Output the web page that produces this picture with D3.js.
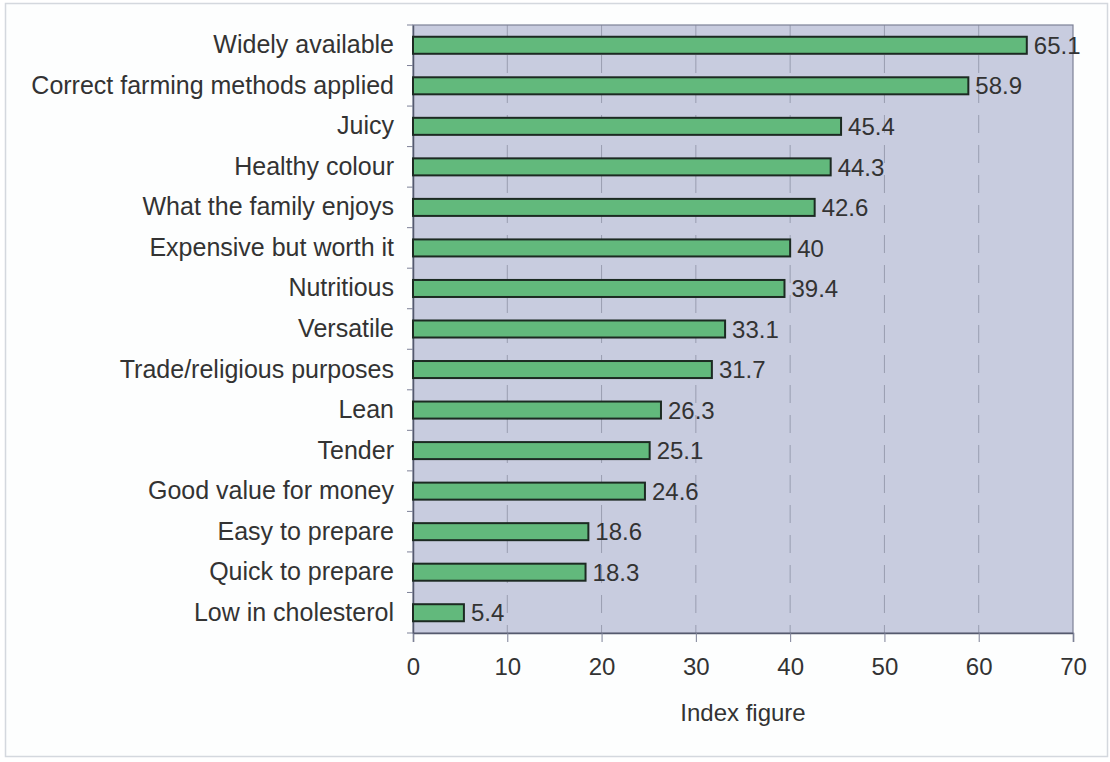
<!DOCTYPE html>
<html><head><meta charset="utf-8">
<script src="https://cdn.jsdelivr.net/npm/d3@7"></script>
<style>body{margin:0;background:#fff}svg{display:block}</style>
</head><body><svg id="c" width="1110" height="762"></svg>
<script>
const categories = ["Widely available","Correct farming methods applied","Juicy","Healthy colour","What the family enjoys","Expensive but worth it","Nutritious","Versatile","Trade/religious purposes","Lean","Tender","Good value for money","Easy to prepare","Quick to prepare","Low in cholesterol"];
const values = [65.1,58.9,45.4,44.3,42.6,40,39.4,33.1,31.7,26.3,25.1,24.6,18.6,18.3,5.4];
const valueLabels = ["65.1","58.9","45.4","44.3","42.6","40","39.4","33.1","31.7","26.3","25.1","24.6","18.6","18.3","5.4"];
const xTicks = [0,10,20,30,40,50,60,70];
const axisTitle = "Index figure";

const svg = d3.select("#c");
const m = {l:413, r:1073, t:25, b:633};
const font = "'Liberation Sans', Arial, sans-serif";
const txt = "#333";

svg.append("rect").attr("x",5.5).attr("y",3.5).attr("width",1102).attr("height",753)
  .attr("fill","#fdfefe").attr("stroke","#d4d8de").attr("stroke-width",1.5);

const x = d3.scaleLinear().domain([0,70]).range([m.l,m.r]);
const y = d3.scaleBand().domain(categories).range([m.t,m.b]).paddingInner(0.58).paddingOuter(0.29);
const yb = d3.scaleBand().domain(categories).range([m.t,m.b]);

svg.append("rect").attr("x",m.l).attr("y",m.t).attr("width",m.r-m.l).attr("height",m.b-m.t)
  .attr("fill","#c8ccdf");

// gridlines
svg.append("g").selectAll("line").data(xTicks.slice(1,-1)).join("line")
  .attr("x1",d=>x(d)).attr("x2",d=>x(d)).attr("y1",m.t).attr("y2",m.b)
  .attr("stroke","#999db0").attr("stroke-width",1).attr("stroke-dasharray","18,12");

// frame
svg.append("rect").attr("x",m.l).attr("y",m.t).attr("width",m.r-m.l).attr("height",m.b-m.t)
  .attr("fill","none").attr("stroke","#7d8197").attr("stroke-width",1.2);

// x axis
const xa = svg.append("g").attr("transform",`translate(0,${m.b})`)
  .call(d3.axisBottom(x).tickValues(xTicks).tickSize(9).tickPadding(16));
xa.select(".domain").attr("stroke","#555a6e").attr("stroke-width",1.5);
xa.selectAll(".tick line").attr("stroke","#7d8197");
xa.selectAll("text").attr("font-family",font).attr("font-size",24).attr("fill",txt);

// y axis
const ya = svg.append("g").attr("transform",`translate(${m.l},0)`)
  .call(d3.axisLeft(yb).tickSize(0).tickPadding(19));
ya.select(".domain").attr("stroke","#555a6e").attr("stroke-width",1.5);
ya.selectAll("text").attr("font-family",font).attr("font-size",25).attr("fill",txt).attr("dy","0.32em");
// small ticks at band boundaries
svg.append("g").selectAll("line").data(d3.range(categories.length+1)).join("line")
  .attr("x1",m.l-6).attr("x2",m.l).attr("y1",i=>m.t+i*yb.step()).attr("y2",i=>m.t+i*yb.step())
  .attr("stroke","#7d8197");

// bars
svg.append("g").selectAll("rect").data(values).join("rect")
  .attr("x",x(0)).attr("y",(d,i)=>y(categories[i]))
  .attr("width",d=>x(d)-x(0)).attr("height",y.bandwidth())
  .attr("fill","#62b97c").attr("stroke","#1c2a22").attr("stroke-width",2);

// value labels
svg.append("g").selectAll("text").data(values).join("text")
  .attr("x",d=>x(d)+7).attr("y",(d,i)=>y(categories[i])+y.bandwidth()/2)
  .attr("dy","0.36em").attr("font-family",font).attr("font-size",24).attr("fill",txt)
  .text((d,i)=>valueLabels[i]);

svg.append("text").attr("x",(m.l+m.r)/2).attr("y",721).attr("text-anchor","middle")
  .attr("font-family",font).attr("font-size",24).attr("fill",txt).text(axisTitle);
</script></body></html>
